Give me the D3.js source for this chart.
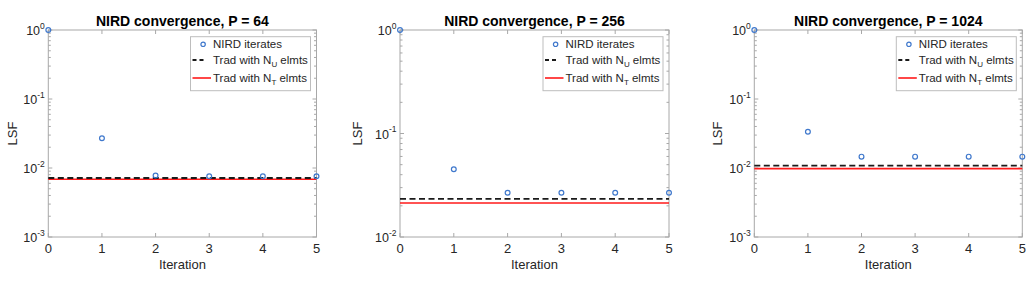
<!DOCTYPE html>
<html>
<head>
<meta charset="utf-8">
<script src="https://cdn.jsdelivr.net/npm/d3@7"></script>
<style>
  body { margin: 0; background: #fff; }
  svg { display: block; font-family: "Liberation Sans", Arial, Helvetica, sans-serif; }
</style>
</head>
<body>
<div id="chart"></div>
<script>
// data
const iterations = [0, 1, 2, 3, 4, 5];
const titles = ["NIRD convergence, P = 64", "NIRD convergence, P = 256", "NIRD convergence, P = 1024"];
const nirdP64 = [1, 0.027, 0.0078, 0.0076, 0.0076, 0.0076];
const nirdP256 = [1, 0.0451, 0.0268, 0.0268, 0.0268, 0.0268];
const nirdP1024 = [1, 0.0336, 0.0146, 0.0146, 0.0146, 0.0146];
const tradNU = [0.00716, 0.0234, 0.0108];
const tradNT = [0.00686, 0.0213, 0.0098];
const yDomains = [[1e-3, 1], [1e-2, 1], [1e-3, 1]];
const legendLabels = ["NIRD iterates", "Trad with N", "Trad with N"];
const legendSubs = ["", "U", "T"];

const nird = [nirdP64, nirdP256, nirdP1024];

// layout
const width = 1036, height = 282;
const plotTop = 30, plotBottom = 237;
const panels = [
  { left: 48.3, right: 316.5, labelOff: 36 },
  { left: 400, right: 669, labelOff: 43 },
  { left: 754.3, right: 1022.3, labelOff: 37 }
];
const axisColor = "#a8a8a8";
const textColor = "#262626";
const blue = "#3f78cc";

const svg = d3.select("#chart").append("svg")
  .attr("width", width)
  .attr("height", height);

panels.forEach((p, i) => {
  const x = d3.scaleLinear().domain([0, 5]).range([p.left, p.right]);
  const y = d3.scaleLog().domain(yDomains[i]).range([plotBottom, plotTop]);
  const g = svg.append("g");

  // box
  g.append("rect")
    .attr("x", p.left).attr("y", plotTop)
    .attr("width", p.right - p.left).attr("height", plotBottom - plotTop)
    .attr("fill", "none").attr("stroke", axisColor).attr("stroke-width", 1);

  // x ticks (inside, bottom and top)
  iterations.forEach(t => {
    const xx = x(t);
    g.append("line").attr("x1", xx).attr("x2", xx).attr("y1", plotBottom).attr("y2", plotBottom - 4)
      .attr("stroke", axisColor);
    g.append("line").attr("x1", xx).attr("x2", xx).attr("y1", plotTop).attr("y2", plotTop + 4)
      .attr("stroke", axisColor);
    g.append("text")
      .attr("x", xx).attr("y", plotBottom + 15.5)
      .attr("text-anchor", "middle")
      .attr("font-size", 13)
      .attr("fill", textColor)
      .text(t);
  });

  // y ticks: majors and minors, left and right
  const [lo, hi] = yDomains[i];
  const e0 = Math.round(Math.log10(lo)), e1 = Math.round(Math.log10(hi));
  for (let e = e0; e <= e1; e++) {
    const yy = y(Math.pow(10, e));
    [[p.left, p.left + 4], [p.right, p.right - 4]].forEach(([a, b]) => {
      g.append("line").attr("x1", a).attr("x2", b).attr("y1", yy).attr("y2", yy)
        .attr("stroke", axisColor);
    });
    const lab = g.append("text")
      .attr("x", p.left - 3.5).attr("y", yy + 5)
      .attr("text-anchor", "end")
      .attr("fill", textColor);
    lab.append("tspan").attr("font-size", 12.5).text("10");
    lab.append("tspan").attr("font-size", 8.5).attr("dy", -6.5).text(e);

    if (e < e1) {
      for (let m = 2; m <= 9; m++) {
        const ym = y(m * Math.pow(10, e));
        [[p.left, p.left + 2.5], [p.right, p.right - 2.5]].forEach(([a, b]) => {
          g.append("line").attr("x1", a).attr("x2", b).attr("y1", ym).attr("y2", ym)
            .attr("stroke", axisColor);
        });
      }
    }
  }

  // reference lines
  g.append("line")
    .attr("x1", p.left).attr("x2", p.right)
    .attr("y1", y(tradNT[i])).attr("y2", y(tradNT[i]))
    .attr("stroke", "#ff1a1a").attr("stroke-width", 1.6);
  g.append("line")
    .attr("x1", p.left).attr("x2", p.right)
    .attr("y1", y(tradNU[i])).attr("y2", y(tradNU[i]))
    .attr("stroke", "#1a1a1a").attr("stroke-width", 1.8)
    .attr("stroke-dasharray", "6,3.5");

  // iterates
  g.selectAll("circle.pt")
    .data(iterations)
    .enter().append("circle")
    .attr("class", "pt")
    .attr("cx", d => x(d))
    .attr("cy", (d, k) => y(nird[i][k]))
    .attr("r", 2.4)
    .attr("fill", "none")
    .attr("stroke", blue)
    .attr("stroke-width", 1.2);

  // title
  g.append("text")
    .attr("x", (p.left + p.right) / 2).attr("y", 26)
    .attr("text-anchor", "middle")
    .attr("font-size", 14).attr("font-weight", "bold")
    .attr("fill", "#000")
    .text(titles[i]);

  // axis labels
  g.append("text")
    .attr("x", (p.left + p.right) / 2).attr("y", 269)
    .attr("text-anchor", "middle")
    .attr("font-size", 13)
    .attr("fill", textColor)
    .text("Iteration");
  g.append("text")
    .attr("transform", `translate(${p.left - p.labelOff + 4.5},${(plotTop + plotBottom) / 2}) rotate(-90)`)
    .attr("text-anchor", "middle")
    .attr("font-size", 13)
    .attr("fill", textColor)
    .text("LSF");

  // legend
  const lw = 120, lh = 54;
  const lx = p.right - 6 - lw, ly = plotTop + 6.7;
  const leg = g.append("g").attr("transform", `translate(${lx},${ly})`);
  leg.append("rect")
    .attr("width", lw).attr("height", lh)
    .attr("fill", "#fff").attr("stroke", "#bdbdbd").attr("stroke-width", 1);
  const rowsY = [7.6, 23.3, 41.3];
  leg.append("circle")
    .attr("cx", 12.6).attr("cy", rowsY[0])
    .attr("r", 2.2).attr("fill", "none").attr("stroke", blue).attr("stroke-width", 1.2);
  leg.append("line")
    .attr("x1", 2).attr("x2", 16).attr("y1", rowsY[1]).attr("y2", rowsY[1])
    .attr("stroke", "#1a1a1a").attr("stroke-width", 1.8).attr("stroke-dasharray", "4,3");
  leg.append("line")
    .attr("x1", 2).attr("x2", 20.5).attr("y1", rowsY[2]).attr("y2", rowsY[2])
    .attr("stroke", "#ff1a1a").attr("stroke-width", 1.6);
  legendLabels.forEach((lab, k) => {
    const t = leg.append("text")
      .attr("x", 22.5).attr("y", rowsY[k] + 4)
      .attr("font-size", 11.5)
      .attr("fill", textColor);
    t.append("tspan").text(lab);
    if (legendSubs[k]) {
      t.append("tspan").attr("font-size", 8).attr("dy", 3.5).text(legendSubs[k]);
      t.append("tspan").attr("dy", -3.5).text(" elmts");
    }
  });
});
</script>
</body>
</html>
